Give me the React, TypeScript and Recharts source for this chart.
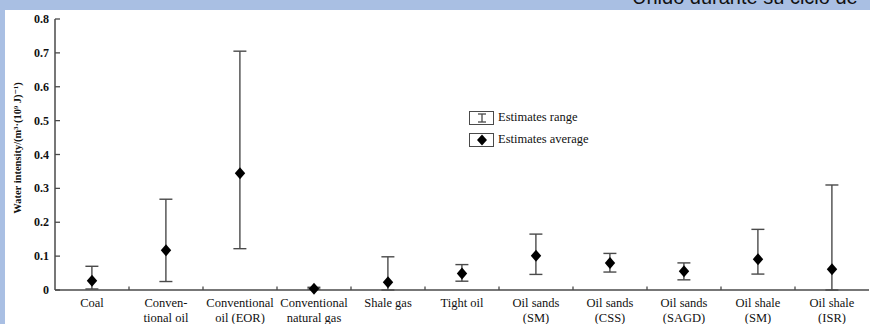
import { ComposedChart, Bar, Line, XAxis, YAxis } from "recharts";

const categories = [
  "Coal",
  "Conven-\ntional oil",
  "Conventional\noil (EOR)",
  "Conventional\nnatural gas",
  "Shale gas",
  "Tight oil",
  "Oil sands\n(SM)",
  "Oil sands\n(CSS)",
  "Oil sands\n(SAGD)",
  "Oil shale\n(SM)",
  "Oil shale\n(ISR)",
];
const rangeLow = [0.003, 0.025, 0.122, 0.003, 0.0, 0.026, 0.046, 0.053, 0.03, 0.047, 0.0];
const rangeHigh = [0.07, 0.268, 0.705, 0.008, 0.098, 0.075, 0.165, 0.108, 0.08, 0.179, 0.31];
const average = [0.027, 0.117, 0.345, 0.004, 0.023, 0.049, 0.101, 0.08, 0.055, 0.091, 0.061];
const yTicks = [0, 0.1, 0.2, 0.3, 0.4, 0.5, 0.6, 0.7, 0.8];

const data = categories.map((name, i) => ({
  name,
  range: [rangeLow[i], rangeHigh[i]],
  avg: average[i],
}));

const W = 870;
const H = 324;
const M = { top: 19, right: 1, bottom: 0, left: 0 };
const X_AXIS_H = 34;
const Y_AXIS_W = 55;
const BAND = (W - M.left - M.right - Y_AXIS_W) / categories.length;

const INK = "#4a4a4a";
const TEXT = "#111";
const SERIF = "'Liberation Serif', 'DejaVu Serif', serif";

function IBeam(props: any) {
  const { x, y, width, height } = props;
  if (x == null || y == null) return null;
  const cx = x + width / 2;
  const top = y;
  const bot = y + height;
  const cap = 6.5;
  return (
    <g stroke={INK} strokeWidth={1.4} fill="none">
      <line x1={cx} x2={cx} y1={top} y2={bot} />
      <line x1={cx - cap} x2={cx + cap} y1={top} y2={top} />
      <line x1={cx - cap} x2={cx + cap} y1={bot} y2={bot} />
    </g>
  );
}

function Diamond(props: any) {
  const { cx, cy } = props;
  if (cx == null || cy == null) return null;
  const w = 5.2;
  const h = 6;
  return (
    <polygon
      points={`${cx},${cy - h} ${cx + w},${cy} ${cx},${cy + h} ${cx - w},${cy}`}
      fill="#000"
    />
  );
}

function XTick(props: any) {
  const { x, y, payload, index } = props;
  const lines = String(payload.value).split("\n");
  const bx = x + BAND / 2;
  return (
    <g>
      {index < categories.length - 1 && (
        <line x1={bx} x2={bx} y1={y} y2={y - 3.5} stroke={INK} strokeWidth={1.3} />
      )}
      <text x={x} y={y + 17} textAnchor="middle" fontFamily={SERIF} fontSize={12.5} fill={TEXT}>
        {lines.map((l, i) => (
          <tspan key={i} x={x} dy={i === 0 ? 0 : 15}>
            {l}
          </tspan>
        ))}
      </text>
    </g>
  );
}

function YTick(props: any) {
  const { x, y, payload } = props;
  const v = payload.value;
  return (
    <g>
      <line x1={x} x2={x + 5} y1={y} y2={y} stroke={INK} strokeWidth={1.3} />
      <text
        x={x - 6}
        y={y + 4}
        textAnchor="end"
        fontFamily={SERIF}
        fontSize={12}
        fontWeight="bold"
        fill={TEXT}
      >
        {v === 0 ? "0" : v.toFixed(1)}
      </text>
    </g>
  );
}

function LegendBox() {
  const box: React.CSSProperties = {
    width: 23,
    height: 12,
    border: `1.5px solid ${INK}`,
    display: "flex",
    alignItems: "center",
    justifyContent: "center",
    marginRight: 4,
  };
  const label: React.CSSProperties = {
    fontFamily: SERIF,
    fontSize: 12.5,
    color: TEXT,
  };
  return (
    <div style={{ display: "flex", flexDirection: "column", gap: 7 }}>
      <div style={{ display: "flex", alignItems: "center" }}>
        <div style={box}>
          <svg width={12} height={10}>
            <g stroke={INK} strokeWidth={1.3}>
              <line x1={6} x2={6} y1={1} y2={9} />
              <line x1={2} x2={10} y1={1} y2={1} />
              <line x1={2} x2={10} y1={9} y2={9} />
            </g>
          </svg>
        </div>
        <span style={label}>Estimates range</span>
      </div>
      <div style={{ display: "flex", alignItems: "center" }}>
        <div style={box}>
          <svg width={12} height={12}>
            <polygon points="6,0.5 11,6 6,11.5 1,6" fill="#000" />
          </svg>
        </div>
        <span style={label}>Estimates average</span>
      </div>
    </div>
  );
}

export default function App() {
  return (
    <div
      style={{
        position: "fixed",
        left: 0,
        top: 0,
        width: W,
        height: H,
        background: "#a9bfe3",
        overflow: "hidden",
      }}
    >
      <div
        style={{
          position: "absolute",
          left: 632,
          top: -13,
          fontFamily: "'Liberation Sans', Arial, sans-serif",
          fontSize: 20,
          lineHeight: "20px",
          color: "#111",
          whiteSpace: "nowrap",
        }}
      >
        Unido durante su ciclo de
      </div>
      <div
        style={{ position: "absolute", left: 5, top: 10, right: 0, bottom: 0, background: "#fff" }}
      />
      <div
        style={{
          position: "absolute",
          left: 17,
          top: 148,
          transform: "translate(-50%, -50%) rotate(-90deg)",
          fontFamily: SERIF,
          fontSize: 10.5,
          fontWeight: "bold",
          color: TEXT,
          whiteSpace: "nowrap",
        }}
      >
        Water intensity/(m³·(10⁹ J)⁻¹)
      </div>
      <div style={{ position: "absolute", left: 469, top: 110 }}>
        <LegendBox />
      </div>
      <div style={{ position: "absolute", left: 0, top: 0 }}>
        <ComposedChart width={W} height={H} data={data} margin={M}>
          <XAxis
            dataKey="name"
            interval={0}
            tickSize={0}
            tickMargin={0}
            tickLine={false}
            tick={<XTick />}
            height={X_AXIS_H}
            axisLine={{ stroke: INK, strokeWidth: 1.5 }}
          />
          <YAxis
            domain={[0, 0.8]}
            ticks={yTicks}
            width={Y_AXIS_W}
            tickSize={0}
            tickMargin={0}
            tickLine={false}
            tick={<YTick />}
            interval={0}
            axisLine={{ stroke: INK, strokeWidth: 1.5 }}
          />
          <Bar dataKey="range" shape={<IBeam />} isAnimationActive={false} />
          <Line
            dataKey="avg"
            stroke="none"
            dot={<Diamond />}
            activeDot={false}
            isAnimationActive={false}
          />
        </ComposedChart>
      </div>
    </div>
  );
}
